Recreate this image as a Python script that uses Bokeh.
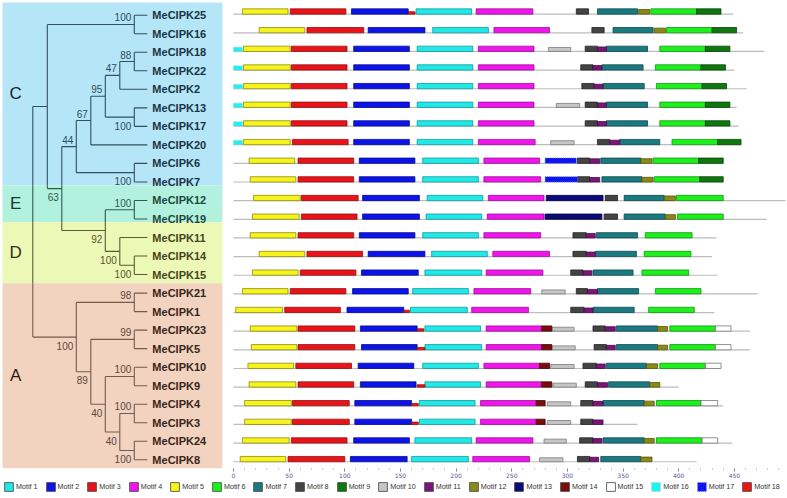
from bokeh.plotting import figure
from bokeh.layouts import column
from bokeh.models import Range1d, FixedTicker, ColumnDataSource, Legend, LegendItem
from bokeh.core.properties import value
from bokeh.embed import file_html
from bokeh.resources import INLINE

# ---------------- data ----------------
LEAVES = ["MeCIPK25", "MeCIPK16", "MeCIPK18", "MeCIPK22", "MeCIPK2", "MeCIPK13",
          "MeCIPK17", "MeCIPK20", "MeCIPK6", "MeCIPK7", "MeCIPK12", "MeCIPK19",
          "MeCIPK11", "MeCIPK14", "MeCIPK15", "MeCIPK21", "MeCIPK1", "MeCIPK23",
          "MeCIPK5", "MeCIPK10", "MeCIPK9", "MeCIPK4", "MeCIPK3", "MeCIPK24", "MeCIPK8"]

# internal nodes of the cladogram (children listed before parents)
NODE_NAMES = ["n1", "n2", "n3", "n4", "n5", "n6", "n7", "n8", "n9", "n10", "n11", "n12",
              "n13", "n14", "n15", "n16", "n17", "n18", "n19", "n20", "n21", "n22", "n23", "root"]
NODE_CHILDREN = [("MeCIPK25", "MeCIPK16"), ("MeCIPK18", "MeCIPK22"), ("n2", "MeCIPK2"),
                 ("MeCIPK13", "MeCIPK17"), ("n3", "n4"), ("n5", "MeCIPK20"),
                 ("MeCIPK6", "MeCIPK7"), ("n6", "n7"), ("MeCIPK12", "MeCIPK19"),
                 ("MeCIPK14", "MeCIPK15"), ("MeCIPK11", "n10"), ("n9", "n11"),
                 ("n8", "n12"), ("n1", "n13"), ("MeCIPK21", "MeCIPK1"),
                 ("MeCIPK23", "MeCIPK5"), ("MeCIPK10", "MeCIPK9"), ("MeCIPK4", "MeCIPK3"),
                 ("MeCIPK24", "MeCIPK8"), ("n18", "n19"), ("n17", "n20"), ("n16", "n21"),
                 ("n15", "n22"), ("n14", "n23")]
NODE_DEPTH = [7, 7, 6, 7, 5, 4, 7, 3, 7, 7, 6, 5, 2, 1, 7, 7, 7, 7, 7, 6, 5, 4, 3, 0]
NODE_SUPPORT = ["100", "88", "47", "100", "95", "67", "100", "44", "100", "100", "100", "92",
                "63", "", "98", "99", "100", "100", "100", "40", "40", "89", "100", ""]
NODE_LABEL_SIDE = ["a", "a", "a", "b", "a", "a", "b", "a", "a", "b", "b", "b",
                   "b", "", "a", "a", "a", "a", "b", "b", "b", "b", "b", ""]
TIP_DEPTH = 7.9

GROUP_NAMES = ["C", "E", "D", "A"]

# protein lengths (aa)
PROTEIN_LENGTH = [449, 458, 477, 450, 461, 452, 454, 456, 440, 440, 496, 479, 434,
                  430, 435, 471, 432, 464, 464, 438, 400, 440, 363, 448, 416]

# motif occurrences per protein: (motif, start, end)
MeCIPK25 = [(5, 8, 49), (3, 51, 101), (2, 106, 157), (18, 157, 163), (1, 164, 214), (4, 218, 269),
            (8, 308, 319), (7, 327, 363), (12, 364, 374), (6, 375, 416), (9, 416, 438)]
MeCIPK16 = [(5, 23, 64), (3, 66, 117), (2, 121, 172), (1, 179, 229), (4, 234, 284),
            (8, 322, 333), (7, 341, 377), (12, 378, 388), (6, 389, 430), (9, 430, 452)]
MeCIPK18 = [(16, 0, 8), (5, 9, 51), (3, 52, 102), (2, 108, 158), (1, 165, 215), (4, 220, 270),
            (10, 283, 303), (8, 316, 327), (11, 327, 335), (7, 335, 372), (6, 383, 424), (9, 424, 446)]
MeCIPK22 = [(16, 0, 8), (5, 9, 51), (3, 52, 102), (2, 108, 158), (1, 165, 215), (4, 220, 270),
            (8, 312, 323), (11, 323, 331), (7, 331, 368), (6, 379, 420), (9, 420, 442)]
MeCIPK2 = [(16, 0, 8), (5, 9, 51), (3, 52, 102), (2, 108, 158), (1, 165, 215), (4, 220, 270),
           (8, 313, 324), (11, 324, 332), (7, 332, 369), (6, 380, 421), (9, 421, 443)]
MeCIPK13 = [(16, 0, 8), (5, 9, 51), (3, 52, 102), (2, 108, 158), (1, 165, 215), (4, 220, 270),
            (10, 290, 311), (8, 316, 327), (11, 327, 335), (7, 335, 372), (6, 383, 424), (9, 424, 446)]
MeCIPK17 = [(16, 0, 8), (5, 9, 51), (3, 52, 102), (2, 108, 158), (1, 165, 215), (4, 220, 270),
            (8, 316, 327), (11, 327, 335), (7, 335, 372), (6, 383, 424), (9, 424, 446)]
MeCIPK20 = [(16, 0, 8), (5, 9, 51), (3, 53, 103), (2, 108, 158), (1, 165, 215), (4, 220, 271),
            (10, 285, 306), (8, 327, 338), (11, 338, 347), (7, 347, 383), (6, 394, 435), (9, 435, 456)]
MeCIPK6 = [(5, 14, 55), (3, 58, 108), (2, 113, 163), (1, 170, 220), (4, 225, 275), (17, 280, 308),
           (8, 309, 320), (11, 320, 329), (7, 330, 366), (12, 366, 376), (6, 377, 418), (9, 418, 440)]
MeCIPK7 = [(5, 15, 56), (3, 58, 108), (2, 113, 163), (1, 170, 220), (4, 225, 276), (17, 280, 309),
           (8, 309, 320), (11, 320, 329), (7, 331, 367), (12, 367, 377), (6, 378, 419), (9, 419, 440)]
MeCIPK12 = [(5, 18, 60), (3, 61, 112), (2, 116, 167), (1, 174, 224), (4, 229, 279), (13, 281, 332),
            (8, 334, 345), (7, 351, 387), (12, 387, 397), (6, 398, 440)]
MeCIPK19 = [(5, 17, 59), (3, 61, 111), (2, 116, 167), (1, 173, 223), (4, 228, 279), (13, 280, 331),
            (8, 333, 345), (7, 351, 388), (12, 388, 397), (6, 399, 440)]
MeCIPK11 = [(5, 15, 56), (3, 58, 108), (2, 113, 163), (1, 170, 220), (4, 225, 276),
            (8, 305, 317), (11, 317, 325), (7, 326, 363), (6, 370, 412)]
MeCIPK14 = [(5, 23, 64), (3, 66, 116), (2, 121, 172), (1, 178, 228), (4, 233, 284),
            (8, 305, 317), (11, 317, 325), (7, 325, 362), (6, 369, 411)]
MeCIPK15 = [(5, 17, 58), (3, 60, 110), (2, 115, 166), (1, 172, 223), (4, 227, 278),
            (8, 303, 314), (11, 314, 322), (7, 323, 359), (6, 367, 409)]
MeCIPK21 = [(5, 8, 49), (3, 51, 101), (2, 107, 157), (1, 161, 211), (4, 216, 267), (10, 277, 298),
            (8, 308, 318), (11, 318, 327), (7, 327, 364), (6, 379, 420)]
MeCIPK1 = [(5, 2, 44), (3, 46, 96), (2, 102, 153), (18, 153, 158), (1, 159, 210), (4, 214, 265),
           (8, 303, 315), (11, 315, 323), (7, 323, 360), (6, 373, 414)]
MeCIPK23 = [(5, 15, 57), (3, 58, 109), (2, 114, 165), (18, 165, 171), (1, 172, 222), (4, 227, 277),
            (14, 277, 286), (10, 286, 306), (8, 323, 334), (11, 334, 343), (7, 344, 381),
            (12, 381, 390), (6, 392, 433), (15, 433, 447)]
MeCIPK5 = [(5, 16, 57), (3, 58, 109), (2, 115, 165), (18, 165, 172), (1, 172, 223), (4, 227, 277),
           (14, 277, 286), (10, 286, 307), (8, 324, 335), (11, 335, 343), (7, 344, 381),
           (12, 381, 390), (6, 392, 433), (15, 433, 447)]
MeCIPK10 = [(5, 13, 54), (3, 56, 106), (2, 112, 162), (1, 170, 220), (4, 225, 275), (14, 275, 284),
            (10, 285, 306), (8, 314, 326), (11, 326, 334), (7, 335, 371), (12, 371, 381),
            (6, 383, 424), (15, 424, 438)]
MeCIPK9 = [(5, 14, 56), (3, 58, 108), (2, 114, 164), (18, 165, 172), (1, 172, 222), (4, 227, 277),
           (14, 277, 286), (10, 287, 308), (8, 316, 327), (11, 327, 336), (7, 337, 374), (12, 374, 383)]
MeCIPK4 = [(5, 10, 52), (3, 53, 104), (2, 109, 160), (18, 160, 166), (1, 167, 217), (4, 222, 272),
           (14, 272, 280), (10, 282, 303), (8, 312, 323), (11, 323, 332), (7, 332, 369),
           (12, 369, 378), (6, 380, 420), (15, 420, 435)]
MeCIPK3 = [(5, 10, 52), (3, 53, 104), (2, 109, 160), (18, 160, 166), (1, 167, 217), (4, 222, 272),
           (14, 272, 280), (10, 282, 303), (8, 312, 323), (11, 323, 332)]
MeCIPK24 = [(5, 8, 50), (3, 52, 102), (2, 108, 158), (1, 163, 214), (4, 218, 269), (10, 279, 299),
            (8, 311, 323), (11, 323, 331), (7, 332, 369), (12, 369, 378), (6, 380, 421), (15, 421, 435)]
MeCIPK8 = [(5, 6, 47), (3, 49, 100), (2, 105, 156), (1, 160, 211), (4, 215, 266), (10, 275, 296),
           (8, 309, 320), (11, 320, 328), (7, 330, 366), (12, 366, 376)]

MOTIF_ROWS = [MeCIPK25, MeCIPK16, MeCIPK18, MeCIPK22, MeCIPK2, MeCIPK13, MeCIPK17, MeCIPK20,
              MeCIPK6, MeCIPK7, MeCIPK12, MeCIPK19, MeCIPK11, MeCIPK14, MeCIPK15, MeCIPK21,
              MeCIPK1, MeCIPK23, MeCIPK5, MeCIPK10, MeCIPK9, MeCIPK4, MeCIPK3, MeCIPK24, MeCIPK8]

AXIS_TICKS = [0, 50, 100, 150, 200, 250, 300, 350, 400, 450]

# ---------------- style ----------------
GROUP_EDGES = [0.3144, 10.19, 12.17, 15.47, 25.469]     # band edges in tree-row units
BAND_FILL = ["#b4e6f8", "#b2f1dd", "#ecf8b6", "#f1d3c0"]
LINE_COL = ["#33505e", "#2f5a52", "#5b5b36", "#765a4a"]
LEAF_COL = ["#1b3444", "#1d4a40", "#45451a", "#3a2519"]
SUP_COL = ["#2f4c5c", "#2e5a50", "#56562e", "#5e473a"]
LETTER_COL = ["#15252c", "#183a32", "#323214", "#2c1d15"]

MOTIF_FILL = {1: "#22e8e8", 2: "#0c14e8", 3: "#e8141a", 4: "#ee16e8", 5: "#f6f41c", 6: "#1ef01e",
              7: "#1a7a80", 8: "#444444", 9: "#0e780e", 10: "#c6c6c6", 11: "#7a167a", 12: "#8a8a18",
              13: "#0a0a78", 14: "#7a0c0c", 15: "#ffffff", 16: "#22f0f0", 17: "#0c14f0", 18: "#ee1414"}
MOTIF_LINE = {1: "#129a9a", 2: "#060a90", 3: "#901010", 4: "#9a109a", 5: "#8e8c10", 6: "#109610",
              7: "#0c4a4e", 8: "#222222", 9: "#064406", 10: "#7a7a7a", 11: "#480848", 12: "#545408",
              13: "#04043e", 14: "#440606", 15: "#777777", 16: "#7fd0e8", 17: "#5a6aff", 18: "#901010"}
MOTIF_HEIGHT = {10: 0.75, 11: 0.85, 12: 0.88, 16: 0.8, 18: 0.45}

W = 787
H_MAIN = 480
H_LEG = 18
AXIS_SPACE = 12
AA_RANGE = (-209.34, 497.75)
TREE_RANGE = (-2.228, 52.05)
TREE_Y_RANGE = (25.469, 0.2065)
MOTIF_Y_RANGE = (25.504, 0.41)
BAR_HALF = 0.142
BAND_X = (-2.09, 13.08)

p = figure(width=W, height=H_MAIN, output_backend="svg", toolbar_location=None,
           x_range=Range1d(*AA_RANGE), y_range=Range1d(*TREE_Y_RANGE),
           y_axis_location=None, min_border=0, min_border_left=0, min_border_right=0,
           min_border_top=0, min_border_bottom=AXIS_SPACE)
p.extra_x_ranges = {"tree": Range1d(*TREE_RANGE)}
p.extra_y_ranges = {"motif": Range1d(*MOTIF_Y_RANGE)}
p.grid.visible = False
p.outline_line_color = None
p.background_fill_color = "white"
p.border_fill_color = "white"


def band_of(y):
    for i in range(4):
        if y < GROUP_EDGES[i + 1]:
            return i
    return 3


# bands
p.quad(left=[BAND_X[0]] * 4, right=[BAND_X[1]] * 4, top=GROUP_EDGES[:-1], bottom=GROUP_EDGES[1:],
       fill_color=BAND_FILL, line_color=None, x_range_name="tree")

# group letters
p.text(x=[-1.19] * 4, y=[(GROUP_EDGES[i] + GROUP_EDGES[i + 1]) / 2 for i in range(4)],
       text=GROUP_NAMES, text_align="center", text_baseline="middle",
       text_font=value("Liberation Sans"), text_font_size="17px", text_color=LETTER_COL,
       x_range_name="tree")

# tree layout
pos = {}
for i, name in enumerate(LEAVES):
    pos[name] = (TIP_DEPTH, i + 1.0)
segs = {"x0": [], "y0": [], "x1": [], "y1": [], "c": []}
sup = {"x": [], "y": [], "t": [], "dy": [], "c": []}
for name, (a, b), d, s, side in zip(NODE_NAMES, NODE_CHILDREN, NODE_DEPTH, NODE_SUPPORT, NODE_LABEL_SIDE):
    ya, yb = pos[a][1], pos[b][1]
    pos[name] = (d, (ya + yb) / 2)
    for ch in (a, b):
        cx, cy = pos[ch]
        segs["x0"].append(d); segs["y0"].append(cy); segs["x1"].append(cx); segs["y1"].append(cy)
        segs["c"].append(LINE_COL[band_of(cy)])
    cuts = [ya] + [e for e in GROUP_EDGES[1:-1] if ya < e < yb] + [yb]
    for y0, y1 in zip(cuts[:-1], cuts[1:]):
        segs["x0"].append(d); segs["y0"].append(y0); segs["x1"].append(d); segs["y1"].append(y1)
        segs["c"].append(LINE_COL[band_of((y0 + y1) / 2)])
    if s:
        ny = (ya + yb) / 2
        sup["x"].append(d); sup["y"].append(ny); sup["t"].append(s)
        dy = -7 if side == "a" else 8.5
        sup["dy"].append(dy)
        sup["c"].append(SUP_COL[band_of(ny + dy / 18.5)])

p.segment(x0="x0", y0="y0", x1="x1", y1="y1", line_color="c", line_width=1.1,
          source=ColumnDataSource(segs), x_range_name="tree")
p.text(x="x", y="y", text="t", y_offset="dy", x_offset=-3, text_align="right",
       text_baseline="middle", text_color="c", text_font=value("Liberation Sans"),
       text_font_size="10px", source=ColumnDataSource(sup), x_range_name="tree")

leaf_src = ColumnDataSource(dict(x=[TIP_DEPTH] * len(LEAVES), y=[i + 1 for i in range(len(LEAVES))],
                                 t=LEAVES, c=[LEAF_COL[band_of(i + 1)] for i in range(len(LEAVES))]))
p.text(x="x", y="y", text="t", x_offset=5, text_align="left", text_baseline="middle",
       text_color="c", text_font=value("Liberation Sans"), text_font_style="bold",
       text_font_size="11px", source=leaf_src, x_range_name="tree")

# protein backbones
rows = [i + 1 for i in range(len(LEAVES))]
p.segment(x0=[0] * len(rows), y0=[r + BAR_HALF for r in rows], x1=PROTEIN_LENGTH,
          y1=[r + BAR_HALF for r in rows], line_color="#bcbcbc", line_width=1.2,
          y_range_name="motif")

# motif bars
for m in range(1, 19):
    d = {"left": [], "right": [], "top": [], "bottom": []}
    h = MOTIF_HEIGHT.get(m, 1.0)
    for r, occ in zip(rows, MOTIF_ROWS):
        for (mm, s, e) in occ:
            if mm == m:
                d["left"].append(s); d["right"].append(e)
                d["bottom"].append(r + BAR_HALF); d["top"].append(r + BAR_HALF - 2 * BAR_HALF * h)
    kw = {"line_dash": "1 1"} if m in (16, 17) else {}
    p.quad(left="left", right="right", top="top", bottom="bottom",
           source=ColumnDataSource(d), fill_color=MOTIF_FILL[m],
           line_color=MOTIF_LINE[m], line_width=0.8, y_range_name="motif", **kw)

# axis
ax = p.xaxis[0]
ax.ticker = FixedTicker(ticks=AXIS_TICKS, minor_ticks=list(range(0, 491, 10)))
ax.axis_line_color = None
ax.major_tick_in = 0
ax.major_tick_out = 3
ax.minor_tick_in = 0
ax.minor_tick_out = 1
ax.major_tick_line_color = "#7a7ab8"
ax.minor_tick_line_color = "#9a9ac8"
ax.major_label_text_font_size = "6px"
ax.major_label_text_color = "#5656a8"
ax.major_label_text_font = "DejaVu Sans"
ax.major_label_standoff = 1

# legend strip (swatch renderers sit outside the visible range)
q = figure(width=W, height=H_LEG, output_backend="svg", toolbar_location=None,
           x_range=Range1d(0, 1), y_range=Range1d(0, 1), x_axis_location=None,
           y_axis_location=None, min_border=0, min_border_left=0, min_border_right=0,
           min_border_top=0, min_border_bottom=0)
q.grid.visible = False
q.outline_line_color = None
items = []
for m in range(1, 19):
    kw = {"line_dash": "1 1"} if m in (16, 17) else {}
    r = q.quad(left=[5], right=[6], top=[6], bottom=[5], fill_color=MOTIF_FILL[m],
               line_color="#444444" if m not in (16, 17) else MOTIF_LINE[m], line_width=0.8, **kw)
    items.append(LegendItem(label=f"Motif {m}", renderers=[r]))
legend = Legend(items=items, orientation="horizontal", location=(3, 6), glyph_width=11,
                glyph_height=11, label_standoff=2, spacing=7, padding=0, margin=0,
                border_line_color=None, background_fill_alpha=0, label_height=11,
                label_text_font_size="7.2px", label_text_font="Liberation Sans",
                label_text_color="#333333")
q.add_layout(legend)

open("out.html", "w").write(file_html(column(p, q), INLINE))
